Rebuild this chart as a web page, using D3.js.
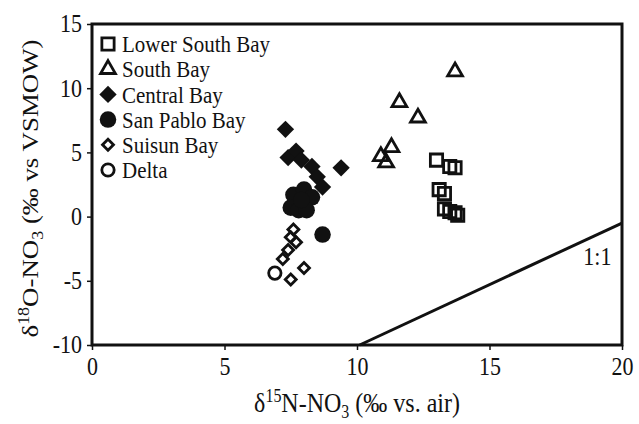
<!DOCTYPE html>
<html>
<head>
<meta charset="utf-8">
<script src="https://cdn.jsdelivr.net/npm/d3@7"></script>
<style>
  body { margin: 0; background: #fff; }
  svg text { font-family: "Liberation Serif", "Times New Roman", serif; }
</style>
</head>
<body>
<div id="chart"></div>
<script>

// values: [d15N, d18O]
const lowerSouthBay = [[13.0, 4.4], [13.5, 3.9], [13.7, 3.8], [13.1, 2.1], [13.3, 1.8],
    [13.3, 0.6], [13.5, 0.4], [13.7, 0.3], [13.8, 0.1]];
const southBay = [[13.7, 11.3], [11.6, 8.9], [12.3, 7.7], [11.3, 5.4], [10.9, 4.7], [11.1, 4.2]];
const centralBay = [[7.3, 6.8], [7.4, 4.6], [7.7, 5.1], [7.9, 4.4], [8.3, 3.9], [8.5, 3.1],
    [8.7, 2.3], [9.4, 3.8]];
const sanPabloBay = [[7.6, 1.7], [8.0, 2.1], [8.3, 1.5], [7.5, 0.7], [7.8, 0.5], [8.1, 0.5],
    [7.9, 1.3], [8.7, -1.4]];
const suisunBay = [[7.6, -1.0], [7.5, -1.6], [7.7, -2.0], [7.4, -2.6], [7.2, -3.3], [8.0, -4.0],
    [7.5, -4.9]];
const delta = [[6.9, -4.4]];

const legendNames = ["Lower South Bay", "South Bay", "Central Bay", "San Pablo Bay", "Suisun Bay", "Delta"];
const xTicks = [0, 5, 10, 15, 20];
const yTicks = [-10, -5, 0, 5, 10, 15];
const oneToOneX = [10.1, 20];
const oneToOneY = [-10, -0.5];

var width = 639, height = 424;
var margin = { top: 24, right: 17, bottom: 79, left: 92 };
var stretch = 1.12;   // glyphs in the original look a bit tall

var svg = d3.select("#chart")
    .append("svg")
    .attr("width", width)
    .attr("height", height);

var x = d3.scaleLinear().domain([0, 20]).range([margin.left, width - margin.right]);
var y = d3.scaleLinear().domain([-10, 15]).range([height - margin.bottom, margin.top]);

// marker styles, one per site
var markers = [
    { type: d3.symbolSquare, size: 150, fill: "none", rot: 0 },
    { type: d3.symbolTriangle, size: 95, fill: "none", rot: 0 },
    { type: d3.symbolSquare, size: 150, fill: "#111", rot: 45, stroke: 0 },
    { type: d3.symbolCircle, size: 215, fill: "#111", rot: 0, stroke: 0 },
    { type: d3.symbolSquare, size: 60, fill: "none", rot: 45 },
    { type: d3.symbolCircle, size: 120, fill: "none", rot: 0 }
];
var series = [lowerSouthBay, southBay, centralBay, sanPabloBay, suisunBay, delta];

function drawMarker(g, m) {
    g.append("path")
        .attr("d", d3.symbol().type(m.type).size(m.size)())
        .attr("transform", "rotate(" + m.rot + ")")
        .attr("fill", m.fill)
        .attr("stroke", "#111")
        .attr("stroke-width", m.stroke === 0 ? 0 : 2.8);
}

// 1:1 line
svg.append("line")
    .attr("x1", x(oneToOneX[0])).attr("y1", y(oneToOneY[0]))
    .attr("x2", x(oneToOneX[1])).attr("y2", y(oneToOneY[1]))
    .attr("stroke", "#111")
    .attr("stroke-width", 3);

svg.append("text")
    .attr("transform", "translate(" + x(19.6) + "," + y(-3.8) + ") scale(1," + stretch + ")")
    .attr("text-anchor", "end")
    .style("font-size", "22px")
    .attr("fill", "#111")
    .text("1:1");

// points
series.forEach(function (data, i) {
    svg.append("g").selectAll("g")
        .data(data)
        .enter()
        .append("g")
        .attr("transform", function (d) { return "translate(" + x(d[0]) + "," + y(d[1]) + ")"; })
        .each(function () { drawMarker(d3.select(this), markers[i]); });
});

// frame
svg.append("rect")
    .attr("x", x(0)).attr("y", y(15))
    .attr("width", x(20) - x(0))
    .attr("height", y(-10) - y(15))
    .attr("fill", "none")
    .attr("stroke", "#111")
    .attr("stroke-width", 3);

var xAxis = svg.append("g")
    .attr("transform", "translate(0," + y(-10) + ")")
    .call(d3.axisBottom(x).tickValues(xTicks).tickFormat(function (d) { return String(d); })
        .tickSize(5).tickPadding(6));
var yAxis = svg.append("g")
    .attr("transform", "translate(" + x(0) + ",0)")
    .call(d3.axisLeft(y).tickValues(yTicks).tickFormat(function (d) { return String(d); })
        .tickSize(5).tickPadding(5));

[xAxis, yAxis].forEach(function (a) {
    a.attr("font-size", 22).attr("font-family", null);
    a.select(".domain").remove();
    a.selectAll("line").attr("stroke", "#111").attr("stroke-width", 1.5);
    a.selectAll("text").attr("fill", "#111")
        .attr("transform", "scale(1," + stretch + ")");
});

// legend
var legend = svg.append("g");
legendNames.forEach(function (name, i) {
    var row = legend.append("g")
        .attr("transform", "translate(108," + (44 + i * 25.2) + ")");
    drawMarker(row, markers[i]);
    row.append("text")
        .attr("x", 14)
        .attr("dy", "0.35em")
        .attr("transform", "scale(1," + stretch + ")")
        .attr("fill", "#111")
        .style("font-size", "21px")
        .text(name);
});

// axis titles
var xt = svg.append("text")
    .attr("transform", "translate(" + x(10) + ",412) scale(1," + stretch + ")")
    .attr("text-anchor", "middle")
    .attr("fill", "#111")
    .style("font-size", "24px");
xt.append("tspan").text("δ");
xt.append("tspan").attr("dy", -9).style("font-size", "16px").text("15");
xt.append("tspan").attr("dy", 9).text("N-NO");
xt.append("tspan").attr("dy", 5).style("font-size", "16px").text("3");
xt.append("tspan").attr("dy", -5).text(" (‰ vs. air)");

var yt = svg.append("text")
    .attr("transform", "translate(38," + ((y(15) + y(-10)) / 2 + 4) + ") rotate(-90) scale(" + stretch + ",1)")
    .attr("text-anchor", "middle")
    .attr("fill", "#111")
    .style("font-size", "24px");
yt.append("tspan").text("δ");
yt.append("tspan").attr("dy", -9).style("font-size", "16px").text("18");
yt.append("tspan").attr("dy", 9).text("O-NO");
yt.append("tspan").attr("dy", 5).style("font-size", "16px").text("3");
yt.append("tspan").attr("dy", -5).text(" (‰ vs VSMOW)");

</script>
</body>
</html>
